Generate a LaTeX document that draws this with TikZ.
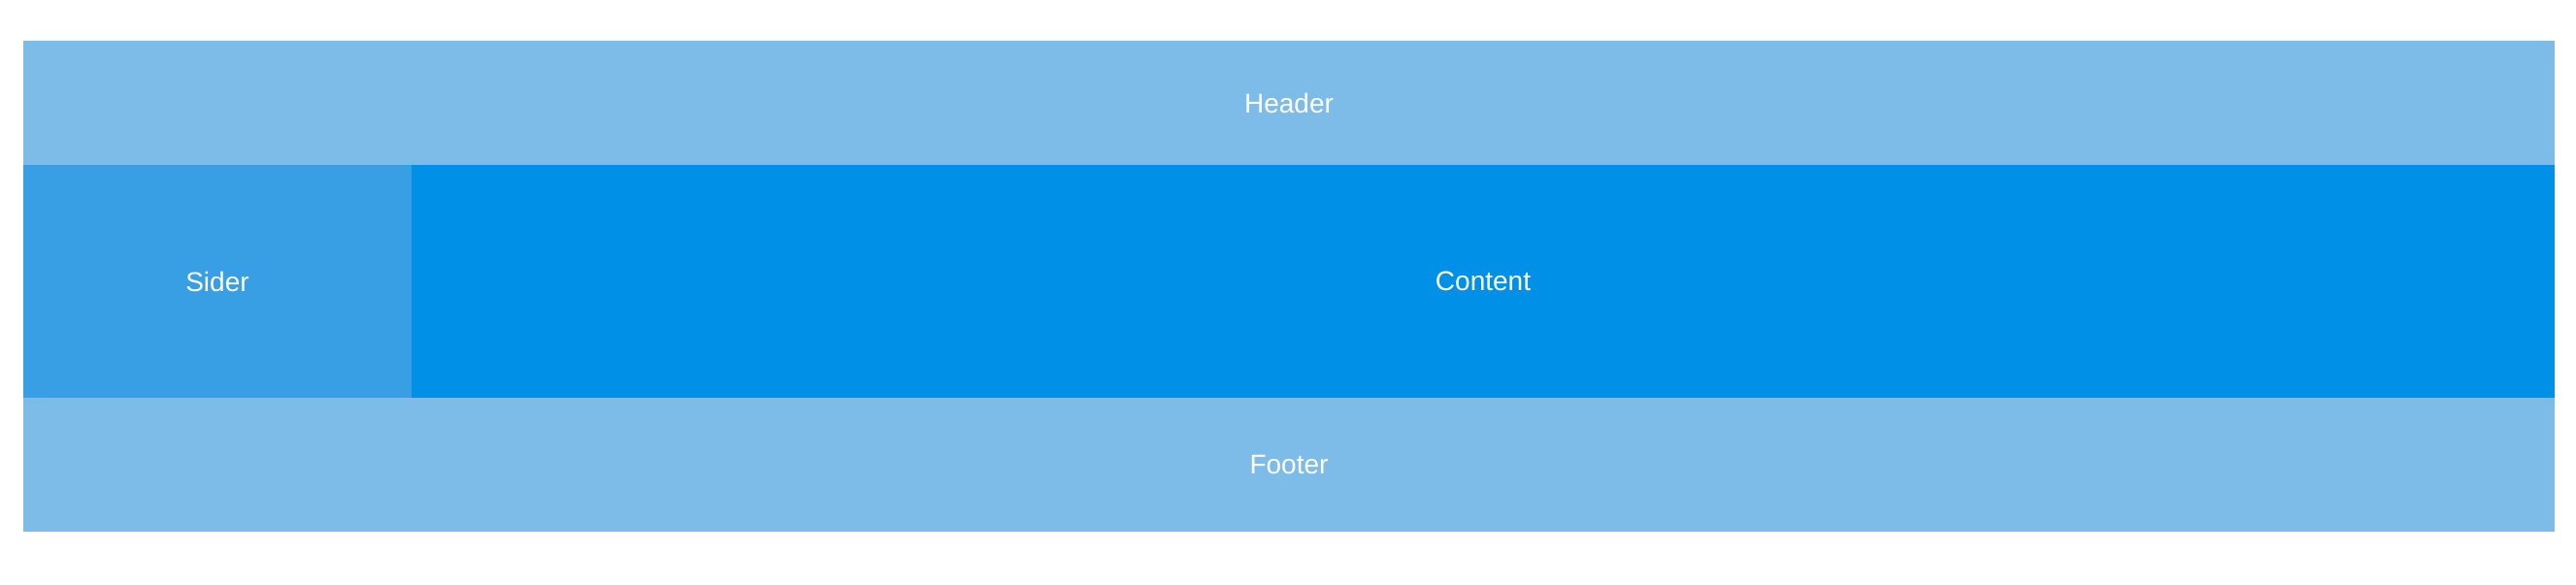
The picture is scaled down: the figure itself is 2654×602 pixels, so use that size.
\documentclass[tikz,border=0pt]{standalone}
\usepackage{fontspec}
\setmainfont{Liberation Sans}
\usepackage{tikz}
\definecolor{headerblue}{HTML}{7DBCE8}
\definecolor{siderblue}{HTML}{389FE5}
\definecolor{contentblue}{HTML}{0090E7}
\tikzset{label text/.style={text=white, font=\fontsize{14}{17}\selectfont}}

\begin{document}
\begin{tikzpicture}[x=0.5pt, y=-0.5pt]

    \useasboundingbox (0,0) rectangle (2654,602);

    \fill[headerblue] (24,42) rectangle (2632,170);
    \fill[siderblue] (24,170) rectangle (424,410);
    \fill[contentblue] (424,170) rectangle (2632,410);
    \fill[headerblue] (24,410) rectangle (2632,548);

    \draw(1328,106) node[label text] (header) {Header};
    \draw(224,290) node[label text] (sider) {Sider};
    \draw(1528,290) node[label text] (content) {Content};
    \draw(1328,479) node[label text] (footer) {Footer};

\end{tikzpicture}
\end{document}
